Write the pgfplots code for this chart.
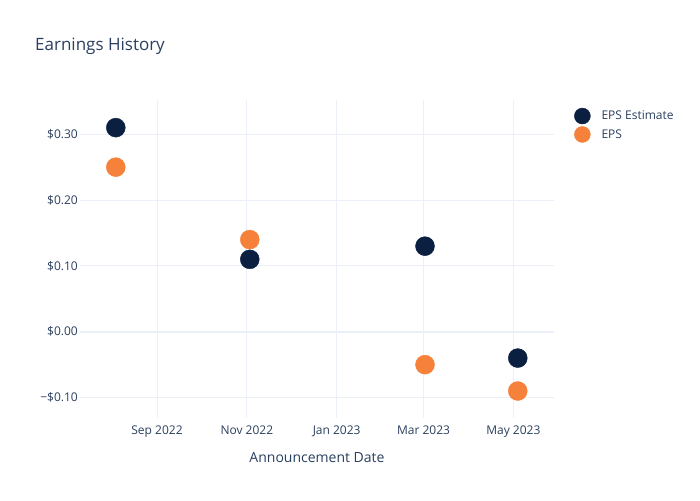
\documentclass[border=0pt]{standalone}
\usepackage{pgfplots}
\pgfplotsset{compat=1.18}
\usepackage{fontspec}
\setmainfont{Open Sans}
\definecolor{est}{HTML}{0B1F41}
\definecolor{eps}{HTML}{F5813A}
\definecolor{txt}{HTML}{2A3F5F}
\definecolor{grd}{HTML}{EBF0F8}
\begin{document}
\begin{tikzpicture}[x=1pt,y=1pt]
\useasboundingbox (-80,-82) rectangle (620,418);
\begin{axis}[
  scale only axis, width=474pt, height=318pt,
  xmin=-52.3, xmax=269.6, ymin=-0.131, ymax=0.352,
  axis line style={draw=none},
  major tick length=0pt,
  xtick={0,61,122,181,242},
  xticklabels={Sep 2022,Nov 2022,Jan 2023,Mar 2023,May 2023},
  ytick={-0.1,0,0.1,0.2,0.3},
  yticklabels={−\$0.10,\$0.00,\$0.10,\$0.20,\$0.30},
  /pgf/number format/assume math mode=true,
  xmajorgrids, ymajorgrids,
  grid style={grd, line width=1pt},
  tick label style={font=\fontsize{12}{14}\selectfont, text=txt},
  xticklabel style={anchor=north, inner sep=0pt, yshift=-8pt},
  yticklabel style={anchor=east, inner sep=0pt, xshift=-2pt},
  extra y ticks={0}, extra y tick labels={},
  extra y tick style={grid style={grd, line width=2pt}},
  legend style={at={(axis description cs:1.040,0.976)}, anchor=north west,
    draw=none, fill=none, inner sep=0pt, row sep=2pt,
    font=\fontsize{12}{14}\selectfont, text=txt},
  legend cell align=left,
  legend image code/.code={\fill[#1] (9pt,0) circle (8pt); \path (0,0) (26pt,0);},
]
\addplot[only marks, mark=*, mark size=9.5pt, color=est, mark options={draw=none, fill=est}]
  coordinates {(-28,0.31) (63,0.11) (182,0.13) (245,-0.04)};
\addlegendentry{EPS Estimate}
\addplot[only marks, mark=*, mark size=9.5pt, color=eps, mark options={draw=none, fill=eps}]
  coordinates {(-28,0.25) (63,0.14) (182,-0.05) (245,-0.09)};
\addlegendentry{EPS}
\end{axis}
\node[anchor=west, inner sep=0pt, text=txt, font=\fontsize{17}{20}\selectfont] at (-45,372) {Earnings History};
\node[inner sep=0pt, text=txt, font=\fontsize{14}{17}\selectfont] at (237,-40) {Announcement Date};
\end{tikzpicture}
\end{document}
